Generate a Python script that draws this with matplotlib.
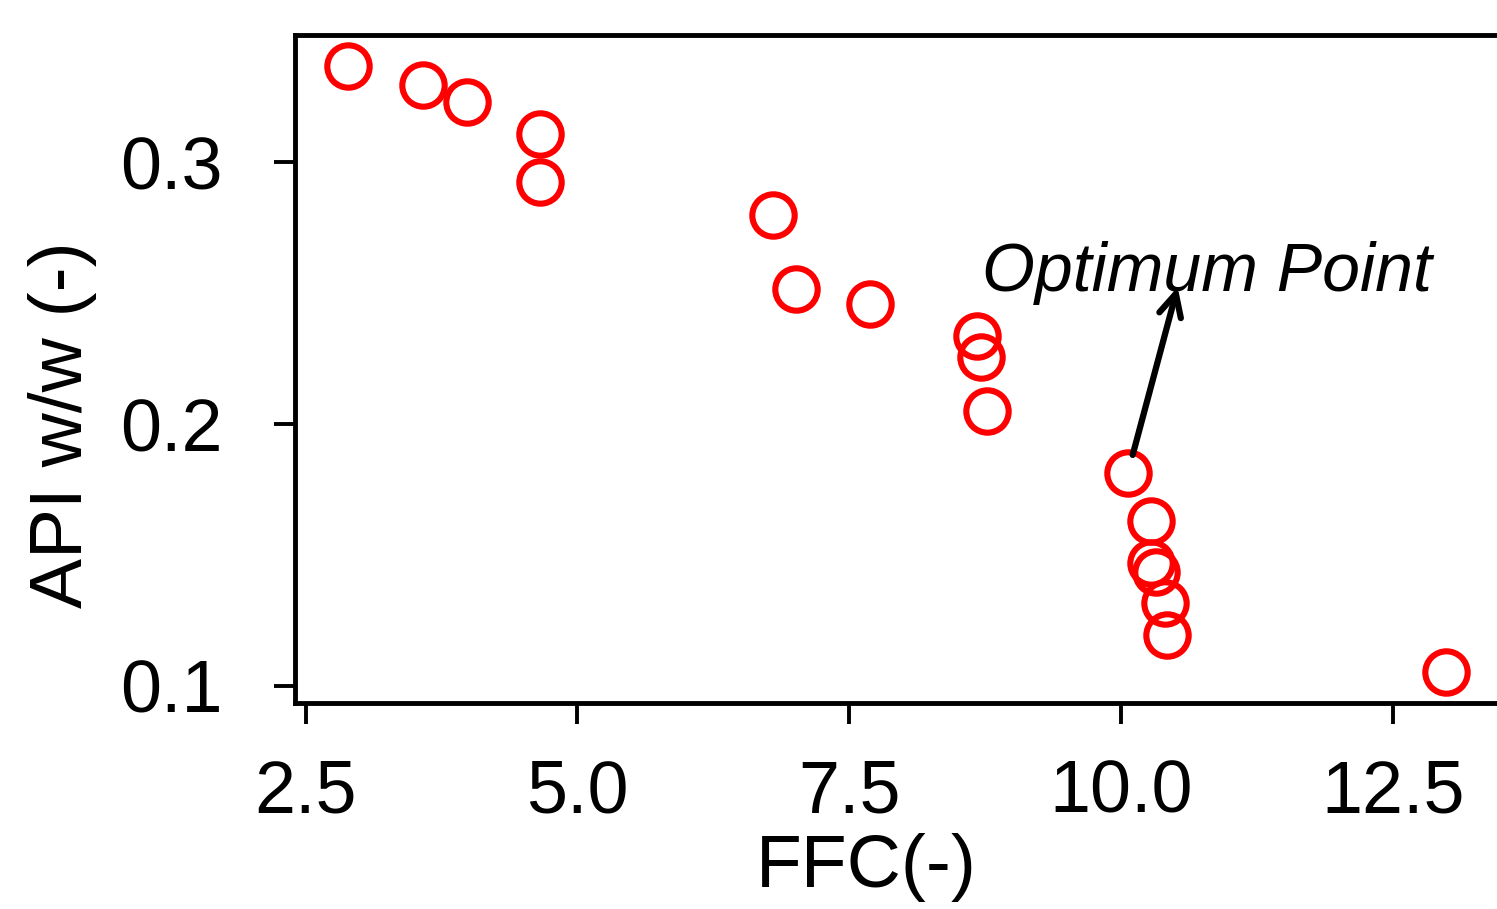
import matplotlib
matplotlib.use("Agg")
import matplotlib.pyplot as plt

ffc = [2.886, 3.576, 3.981, 4.653, 4.653, 6.796, 7.008, 7.689, 8.673, 8.710,
       8.765, 10.062, 10.274, 10.274, 10.320, 10.403, 10.421, 12.988]
api = [0.3366, 0.3294, 0.3229, 0.3107, 0.2924, 0.2798, 0.2515, 0.2458, 0.2336,
       0.2256, 0.2050, 0.1813, 0.1630, 0.1469, 0.1435, 0.1317, 0.1195, 0.1053]
xticks = [2.5, 5.0, 7.5, 10.0, 12.5]
yticks = [0.1, 0.2, 0.3]
opt_x, opt_y = 10.062, 0.1813

plt.rcParams['font.family'] = ['Liberation Sans', 'DejaVu Sans']

fig = plt.figure(figsize=(14.97, 9.09), dpi=100)
ax = fig.add_axes([0.197, 0.2266, 0.803, 0.7349])

ax.plot(ffc, api, linestyle='none', marker='o', markersize=30.5,
        markerfacecolor='none', markeredgecolor='#ff0000', markeredgewidth=4.4)

ax.set_xlim(2.40, 13.46)
ax.set_ylim(0.0935, 0.3485)
ax.set_xticks(xticks)
ax.set_xticklabels([f"{v:.1f}" for v in xticks])
ax.set_yticks(yticks)
ax.set_yticklabels([f"{v:.1f}" for v in yticks])

for s in ['left', 'bottom', 'top']:
    ax.spines[s].set_linewidth(3.5)
ax.spines['right'].set_visible(False)
ax.tick_params(axis='both', direction='out', length=15, width=2.8, labelsize=53)
ax.tick_params(axis='x', pad=25)
ax.tick_params(axis='y', pad=37)

fig.text(866 / 1497, 1 - 868 / 909, 'FFC(-)', fontsize=54,
         ha='center', va='center')
fig.text(63 / 1497, 1 - 425 / 909, 'API w/w (-)', fontsize=54,
         rotation=90, ha='center', va='center')

ax.text(10.79, 0.2508, 'Optimum Point', fontsize=49, style='italic',
        ha='center', va='baseline')
ax.annotate('', xy=(10.522, 0.2523), xytext=(10.108, 0.1882),
            arrowprops=dict(arrowstyle='->', lw=4.5, color='black',
                            mutation_scale=40, shrinkA=0, shrinkB=0))

fig.savefig('out.png', dpi=100)
